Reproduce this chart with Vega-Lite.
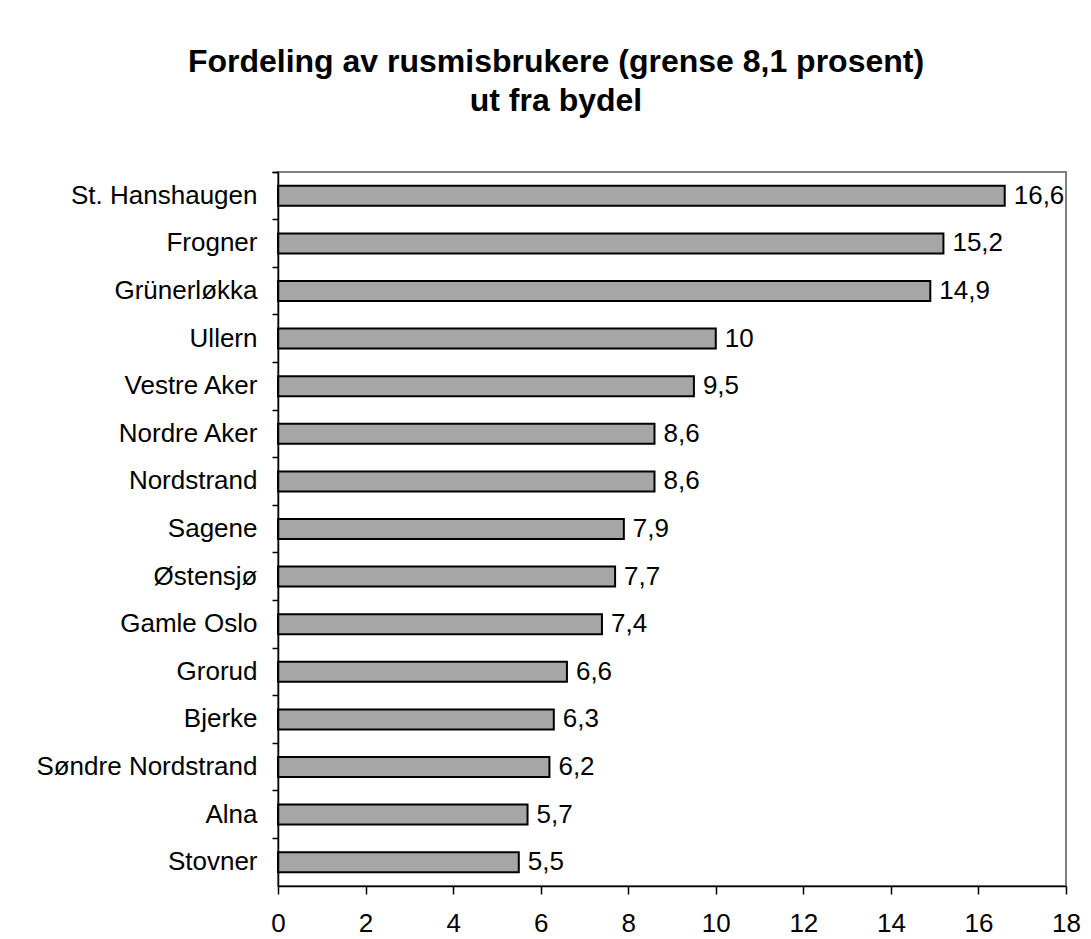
{
  "$schema": "https://vega.github.io/schema/vega-lite/v6.json",
  "autosize": {"type": "none"},
  "width": 788,
  "height": 714,
  "padding": {"left": 278, "top": 172, "right": 25, "bottom": 53},
  "background": "white",
  "title": {
    "text": ["Fordeling av rusmisbrukere (grense 8,1 prosent)", "ut fra bydel"],
    "anchor": "middle",
    "frame": "group",
    "dx": -116,
    "offset": 9,
    "baseline": "bottom",
    "lineHeight": 39,
    "font": "Liberation Sans",
    "fontSize": 32,
    "fontWeight": "bold",
    "color": "black"
  },
  "config": {
    "locale": {"number": {"decimal": ",", "thousands": " ", "grouping": [3], "currency": ["", " kr"]}},
    "view": {"stroke": "#808080", "strokeWidth": 2},
    "font": "Liberation Sans"
  },
  "data": {
    "values": [
      {"bydel": "St. Hanshaugen", "prosent": 16.6},
      {"bydel": "Frogner", "prosent": 15.2},
      {"bydel": "Grünerløkka", "prosent": 14.9},
      {"bydel": "Ullern", "prosent": 10},
      {"bydel": "Vestre Aker", "prosent": 9.5},
      {"bydel": "Nordre Aker", "prosent": 8.6},
      {"bydel": "Nordstrand", "prosent": 8.6},
      {"bydel": "Sagene ", "prosent": 7.9},
      {"bydel": "Østensjø", "prosent": 7.7},
      {"bydel": "Gamle Oslo", "prosent": 7.4},
      {"bydel": "Grorud", "prosent": 6.6},
      {"bydel": "Bjerke", "prosent": 6.3},
      {"bydel": "Søndre Nordstrand", "prosent": 6.2},
      {"bydel": "Alna", "prosent": 5.7},
      {"bydel": "Stovner", "prosent": 5.5}
    ]
  },
  "encoding": {
    "y": {
      "field": "bydel",
      "type": "nominal",
      "sort": null,
      "scale": {"paddingInner": 0, "paddingOuter": 0},
      "axis": {
        "title": null,
        "bandPosition": 0,
        "tickExtra": true,
        "tickSize": 6,
        "tickColor": "black",
        "tickWidth": 1.5,
        "domainColor": "black",
        "domainWidth": 1.5,
        "labelFontSize": 26,
        "labelColor": "black",
        "labelPadding": 15,
        "labelLimit": 0,
        "labelFont": "Liberation Sans",
        "zindex": 1
      }
    },
    "x": {
      "field": "prosent",
      "type": "quantitative",
      "scale": {"domain": [0, 18], "nice": false},
      "axis": {
        "title": null,
        "values": [0, 2, 4, 6, 8, 10, 12, 14, 16, 18],
        "grid": false,
        "tickSize": 8,
        "tickColor": "black",
        "tickWidth": 1.5,
        "domainColor": "black",
        "domainWidth": 1.5,
        "labelFontSize": 26,
        "labelColor": "black",
        "labelPadding": 16,
        "labelFlush": false,
        "labelFont": "Liberation Sans",
        "zindex": 1
      }
    }
  },
  "layer": [
    {
      "mark": {"type": "bar", "height": {"band": 0.42}, "fill": "#a6a6a6", "stroke": "black", "strokeWidth": 2}
    },
    {
      "mark": {"type": "text", "align": "left", "baseline": "middle", "dx": 9, "fontSize": 26, "font": "Liberation Sans", "color": "black"},
      "encoding": {
        "text": {"field": "prosent", "type": "quantitative", "format": ".1~f"}
      }
    }
  ]
}
